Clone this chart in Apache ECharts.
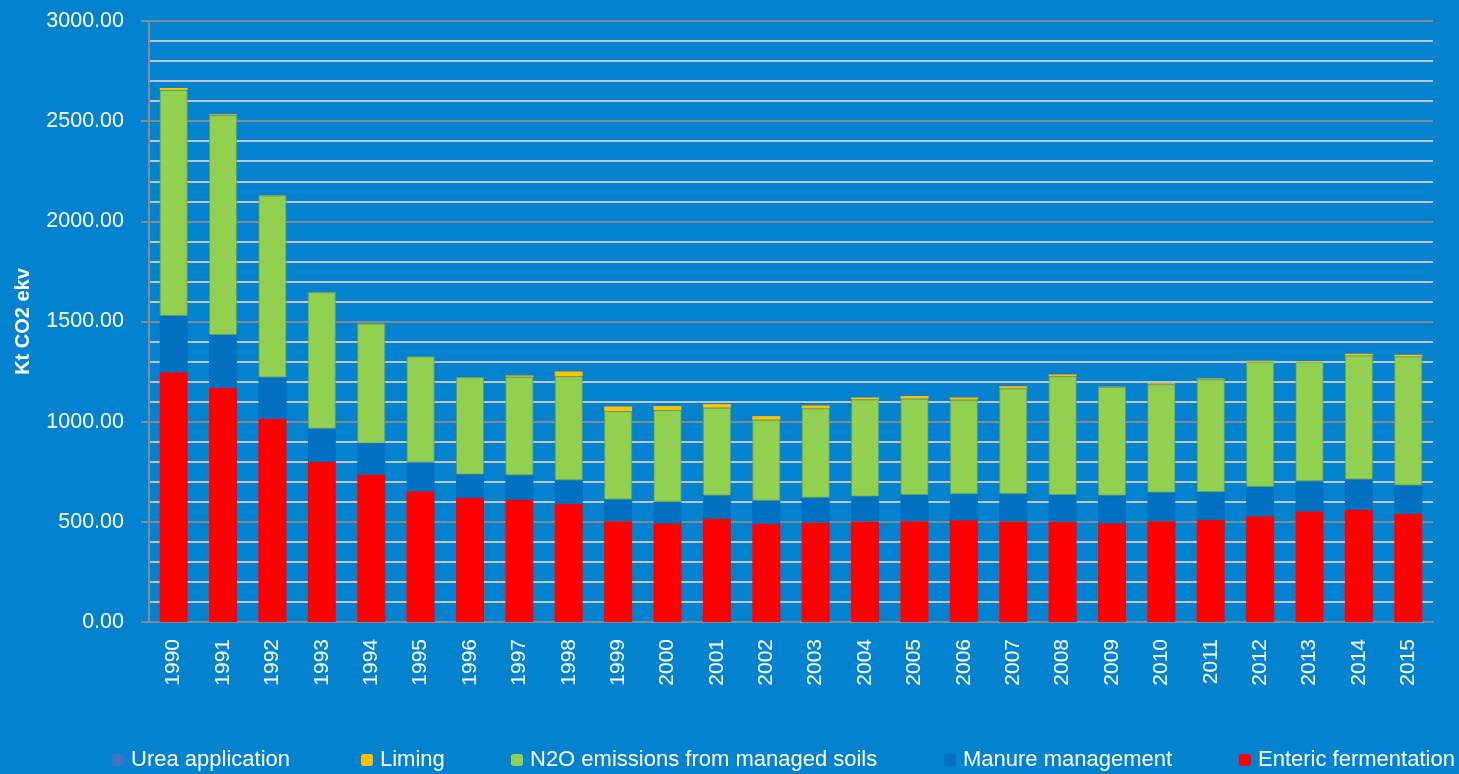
<!DOCTYPE html>
<html>
<head>
<meta charset="utf-8">
<style>
html,body{margin:0;padding:0;background:#0382d0;}
#Bar{width:1459px;height:774px;}
</style>
<script src="https://cdn.jsdelivr.net/npm/echarts@6/dist/echarts.min.js"></script>
</head>
<body>
<div id="Bar"></div>
<script>
var years = ['1990','1991','1992','1993','1994','1995','1996','1997','1998','1999','2000','2001','2002',
	'2003','2004','2005','2006','2007','2008','2009','2010','2011','2012','2013','2014','2015'];
var enteric = [1247,1169,1015,799,736,653,619,611,590,503,493,515,490,495,502,503,508,502,500,493,503,510,528,553,560,540];
var manure = [281,263,206,166,156,144,117,121,117,108,107,116,115,125,124,131,130,137,134,138,143,139,146,150,151,141];
var n2o = [1128,1098,908,681,598,528,486,492,520,442,458,439,405,446,485,481,472,527,593,543,540,562,625,594,619,644];
var liming = [10,5,2,1,1,1,1,7,24,23,20,18,18,15,10,13,11,11,9,2,6,5,5,5,9,9];
var urea = [0.5,0.5,0.5,0.5,0.5,0.5,0.5,0.5,0.5,0.5,0.5,0.5,0.5,0.5,0.5,0.5,0.5,0.5,0.5,0.5,0.5,0.5,0.5,0.5,0.5,0.5];
var yTicks = ['0.00','500.00','1000.00','1500.00','2000.00','2500.00','3000.00'];

var font = '"Liberation Sans", Arial, sans-serif';
var myChart = echarts.init(document.getElementById('Bar'));

// 图例位置按原图分开放
function legendAt(name, x) {
	return {
		data: [name],
		left: x,
		top: 749,
		itemWidth: 12,
		itemHeight: 12,
		itemGap: 0,
		padding: 0,
		itemStyle: {borderWidth: 0},
		textStyle: {color: '#fff', fontSize: 22, fontFamily: font, padding: [0, 0, 0, 2]}
	};
}

function bar(name, data, color, border) {
	return {
		name: name,
		type: 'bar',
		stack: 'total',
		barWidth: 28,
		data: data,
		itemStyle: border ? {color: color, borderColor: border, borderWidth: 1} : {color: color},
		emphasis: {disabled: true}
	};
}

var option = {
	backgroundColor: '#0382d0',
	animation: false,
	legend: [
		legendAt('Urea application', 112),
		legendAt('Liming', 361),
		legendAt('N2O emissions from managed soils', 511),
		legendAt('Manure management', 944),
		legendAt('Enteric fermentation', 1239)
	],
	grid: {left: 149, right: 26, top: 21, bottom: 152, outerBoundsMode: 'none'},
	xAxis: {
		type: 'category',
		data: years,
		axisLine: {lineStyle: {color: '#7f8c99', width: 2}},
		axisTick: {show: false},
		axisLabel: {color: '#fff', rotate: 90, fontSize: 21, fontFamily: font, margin: 17}
	},
	yAxis: {
		type: 'value',
		min: 0,
		max: 3000,
		interval: 500,
		name: 'Kt CO2 ekv',
		nameLocation: 'middle',
		nameGap: 116,
		nameMoveOverlap: false,
		nameTextStyle: {color: '#fff', fontSize: 20, fontWeight: 'bold', fontFamily: font},
		axisLine: {show: true, lineStyle: {color: '#7f8c99', width: 2}},
		axisTick: {show: true, inside: false, length: 8, lineStyle: {color: '#7f8c99', width: 2}},
		axisLabel: {
			color: '#fff', fontSize: 21.5, fontFamily: font, margin: 25,
			formatter: function (v) { return yTicks[v / 500]; }
		},
		splitLine: {lineStyle: {color: '#7f8c99', width: 2}},
		minorTick: {show: false, splitNumber: 5},
		minorSplitLine: {show: true, lineStyle: {color: '#bcc6d0', width: 2}}
	},
	series: [
		bar('Enteric fermentation', enteric, '#ff0000'),
		bar('Manure management', manure, '#0070c0'),
		bar('N2O emissions from managed soils', n2o, '#92d050', 'rgba(110,150,90,0.7)'),
		bar('Liming', liming, '#ffc000'),
		bar('Urea application', urea, '#4472c4')
	]
};

myChart.setOption(option);
</script>
</body>
</html>
